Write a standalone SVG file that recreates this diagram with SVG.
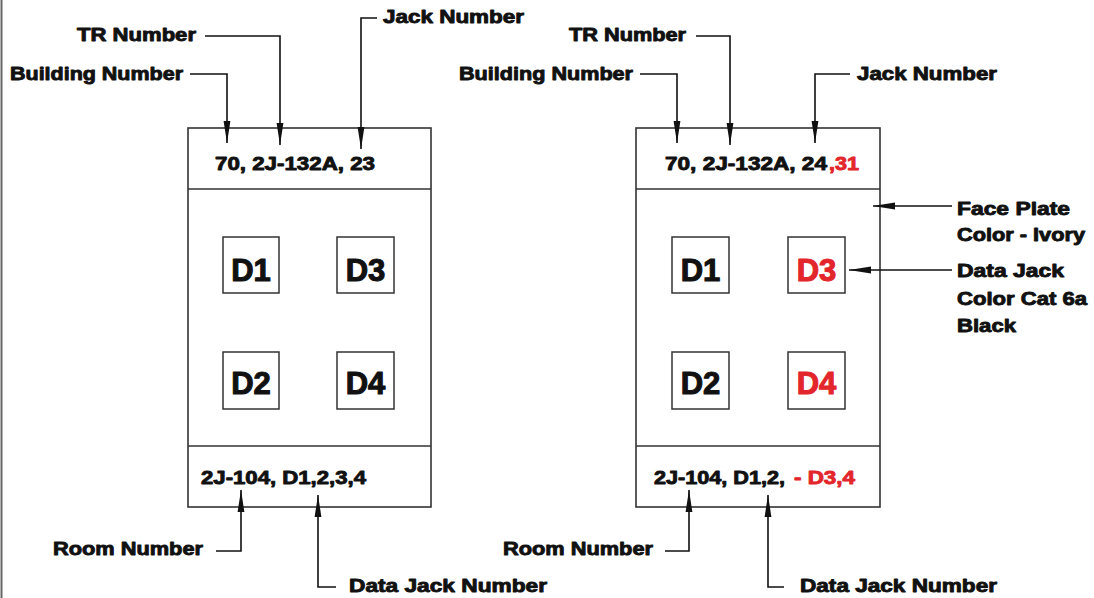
<svg xmlns="http://www.w3.org/2000/svg" width="1094" height="598" viewBox="0 0 1094 598">
<defs>
<style>
.t{font-family:"Liberation Sans",Arial,sans-serif;font-weight:bold;font-size:18.5px;fill:#111;stroke:#111;stroke-width:0.9;stroke-linejoin:round}
.r{fill:#e3262b;stroke:#e3262b}
.d{font-family:"Liberation Sans",Arial,sans-serif;font-weight:bold;font-size:31px;fill:#111;stroke:#111;stroke-width:1.1;stroke-linejoin:round;text-anchor:middle}
.box{fill:#fff;stroke:#333;stroke-width:1.6}
.jk{fill:#fff;stroke:#333;stroke-width:1.5}
.ln{fill:none;stroke:#111;stroke-width:1.6;marker-end:url(#ah)}
</style>
<marker id="ah" viewBox="0 0 22 8" refX="22" refY="4" markerWidth="22" markerHeight="8" markerUnits="userSpaceOnUse" orient="auto">
<path d="M0,0.6 L22,4 L0,7.4 z" fill="#111"/>
</marker>
</defs>
<rect width="1094" height="598" fill="#fff"/>
<line x1="1.5" y1="0" x2="1.5" y2="598" stroke="#666" stroke-width="2"/>

<g id="plate-left">
<rect class="box" x="188" y="128" width="243" height="379"/>
<line x1="188" y1="189" x2="431" y2="189" stroke="#333" stroke-width="1.6"/>
<line x1="188" y1="446" x2="431" y2="446" stroke="#333" stroke-width="1.6"/>
<text class="t" x="215" y="170" textLength="160" lengthAdjust="spacingAndGlyphs">70, 2J-132A, 23</text>
<text class="t" x="201" y="484" textLength="165" lengthAdjust="spacingAndGlyphs">2J-104, D1,2,3,4</text>
</g>
<g id="jack-left-d1"><rect class="jk" x="223" y="237" width="56" height="56"/><text class="d" x="251" y="281">D1</text></g>
<g id="jack-left-d3"><rect class="jk" x="337" y="237" width="57" height="56"/><text class="d" x="365.5" y="281">D3</text></g>
<g id="jack-left-d2"><rect class="jk" x="223" y="352" width="56" height="57"/><text class="d" x="251" y="394">D2</text></g>
<g id="jack-left-d4"><rect class="jk" x="337" y="352" width="57" height="57"/><text class="d" x="365.5" y="394">D4</text></g>

<g id="plate-right">
<rect class="box" x="636" y="128" width="244" height="379"/>
<line x1="636" y1="189" x2="880" y2="189" stroke="#333" stroke-width="1.6"/>
<line x1="636" y1="446" x2="880" y2="446" stroke="#333" stroke-width="1.6"/>
<text class="t" x="665" y="170" textLength="162" lengthAdjust="spacingAndGlyphs">70, 2J-132A, 24</text>
<text class="t r" x="829" y="170" textLength="30" lengthAdjust="spacingAndGlyphs">,31</text>
<text class="t" x="654" y="484" textLength="131" lengthAdjust="spacingAndGlyphs">2J-104, D1,2,</text>
<text class="t r" x="794" y="484" textLength="61" lengthAdjust="spacingAndGlyphs">- D3,4</text>
</g>
<g id="jack-right-d1"><rect class="jk" x="672" y="237" width="57" height="56"/><text class="d" x="700.5" y="281">D1</text></g>
<g id="jack-right-d3"><rect class="jk" x="788" y="237" width="57" height="56"/><text class="d" x="816.5" y="281" style="fill:#e3262b;stroke:#e3262b">D3</text></g>
<g id="jack-right-d2"><rect class="jk" x="672" y="352" width="57" height="57"/><text class="d" x="700.5" y="394">D2</text></g>
<g id="jack-right-d4"><rect class="jk" x="788" y="352" width="57" height="57"/><text class="d" x="816.5" y="394" style="fill:#e3262b;stroke:#e3262b">D4</text></g>

<g id="labels-left">
<text class="t" x="10" y="80" textLength="173" lengthAdjust="spacingAndGlyphs">Building Number</text>
<text class="t" x="77" y="41" textLength="119" lengthAdjust="spacingAndGlyphs">TR Number</text>
<text class="t" x="383" y="23" textLength="141" lengthAdjust="spacingAndGlyphs">Jack Number</text>
<text class="t" x="53" y="555" textLength="150" lengthAdjust="spacingAndGlyphs">Room Number</text>
<text class="t" x="349" y="592" textLength="198" lengthAdjust="spacingAndGlyphs">Data Jack Number</text>
</g>
<g id="labels-right">
<text class="t" x="459" y="80" textLength="174" lengthAdjust="spacingAndGlyphs">Building Number</text>
<text class="t" x="569" y="41" textLength="117" lengthAdjust="spacingAndGlyphs">TR Number</text>
<text class="t" x="857" y="80" textLength="140" lengthAdjust="spacingAndGlyphs">Jack Number</text>
<text class="t" x="957" y="215" textLength="113" lengthAdjust="spacingAndGlyphs">Face Plate</text>
<text class="t" x="957" y="241" textLength="128" lengthAdjust="spacingAndGlyphs">Color - Ivory</text>
<text class="t" x="957" y="277" textLength="107" lengthAdjust="spacingAndGlyphs">Data Jack</text>
<text class="t" x="957" y="305" textLength="130" lengthAdjust="spacingAndGlyphs">Color Cat 6a</text>
<text class="t" x="957" y="332" textLength="59" lengthAdjust="spacingAndGlyphs">Black</text>
<text class="t" x="503" y="555" textLength="150" lengthAdjust="spacingAndGlyphs">Room Number</text>
<text class="t" x="800" y="592" textLength="197" lengthAdjust="spacingAndGlyphs">Data Jack Number</text>
</g>

<g id="connectors">
<polyline class="ln" points="190,74 227,74 227,143"/>
<polyline class="ln" points="205,36 280,36 280,145"/>
<polyline class="ln" points="377,18 361,18 361,149"/>
<polyline class="ln" points="216,551 241,551 241,490"/>
<polyline class="ln" points="336,587 318,587 318,495"/>
<polyline class="ln" points="640,74 677,74 677,143"/>
<polyline class="ln" points="696,36 730,36 730,145"/>
<polyline class="ln" points="850,74 815,74 815,143"/>
<polyline class="ln" points="952,206 873,206"/>
<polyline class="ln" points="952,270 849,270"/>
<polyline class="ln" points="665,551 689,551 689,490"/>
<polyline class="ln" points="784,587 768,587 768,495"/>
</g>
</svg>
